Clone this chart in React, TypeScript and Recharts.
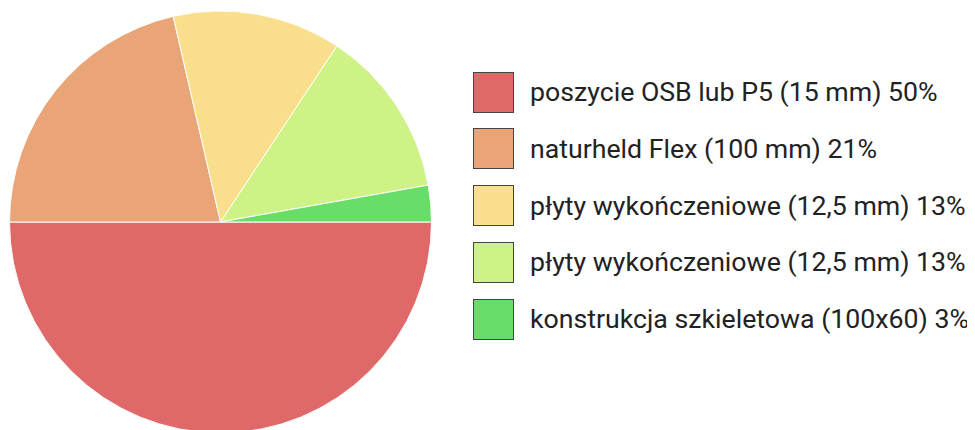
import React from "react";
import { PieChart, Pie, Cell, Legend } from "recharts";

const names = [
  "poszycie OSB lub P5 (15 mm)",
  "naturheld Flex (100 mm)",
  "płyty wykończeniowe (12,5 mm)",
  "płyty wykończeniowe (12,5 mm)",
  "konstrukcja szkieletowa (100x60)",
];
const values = [50, 21.4, 12.9, 12.9, 2.8];
const colors = ["#DF6868", "#E9A478", "#F9DF8B", "#CEF285", "#68DE68"];

const data = names.map((n, i) => ({
  name: `${n} ${Math.round(values[i])}%`,
  value: values[i],
}));

const renderLegend = () => {
  return (
    <div style={{ fontFamily: "Roboto", fontSize: 26.7, color: "#222" }}>
      {data.map((entry, i) => (
        <div
          key={i}
          style={{
            display: "flex",
            alignItems: "center",
            height: 40,
            marginBottom: 16.75,
          }}
        >
          <div
            style={{
              width: 41,
              height: 41,
              boxSizing: "border-box",
              border: "1px solid #444",
              background: colors[i],
              marginRight: 16,
              flexShrink: 0,
            }}
          />
          <span style={{ whiteSpace: "nowrap" }}>{entry.name}</span>
        </div>
      ))}
    </div>
  );
};

export default function App() {
  return (
    <PieChart width={967} height={422} margin={{ top: 0, right: 0, bottom: 0, left: 0 }}>
      <Pie
        data={data}
        dataKey="value"
        nameKey="name"
        cx={212.5}
        cy={214}
        outerRadius={211}
        startAngle={0}
        endAngle={-360}
        stroke="#fff"
        strokeWidth={1}
        isAnimationActive={false}
      >
        {data.map((d, i) => (
          <Cell key={i} fill={colors[i]} />
        ))}
      </Pie>
      <Legend
        content={renderLegend}
        layout="vertical"
        wrapperStyle={{ position: "absolute", left: 465, top: 64, width: 510 }}
      />
    </PieChart>
  );
}
